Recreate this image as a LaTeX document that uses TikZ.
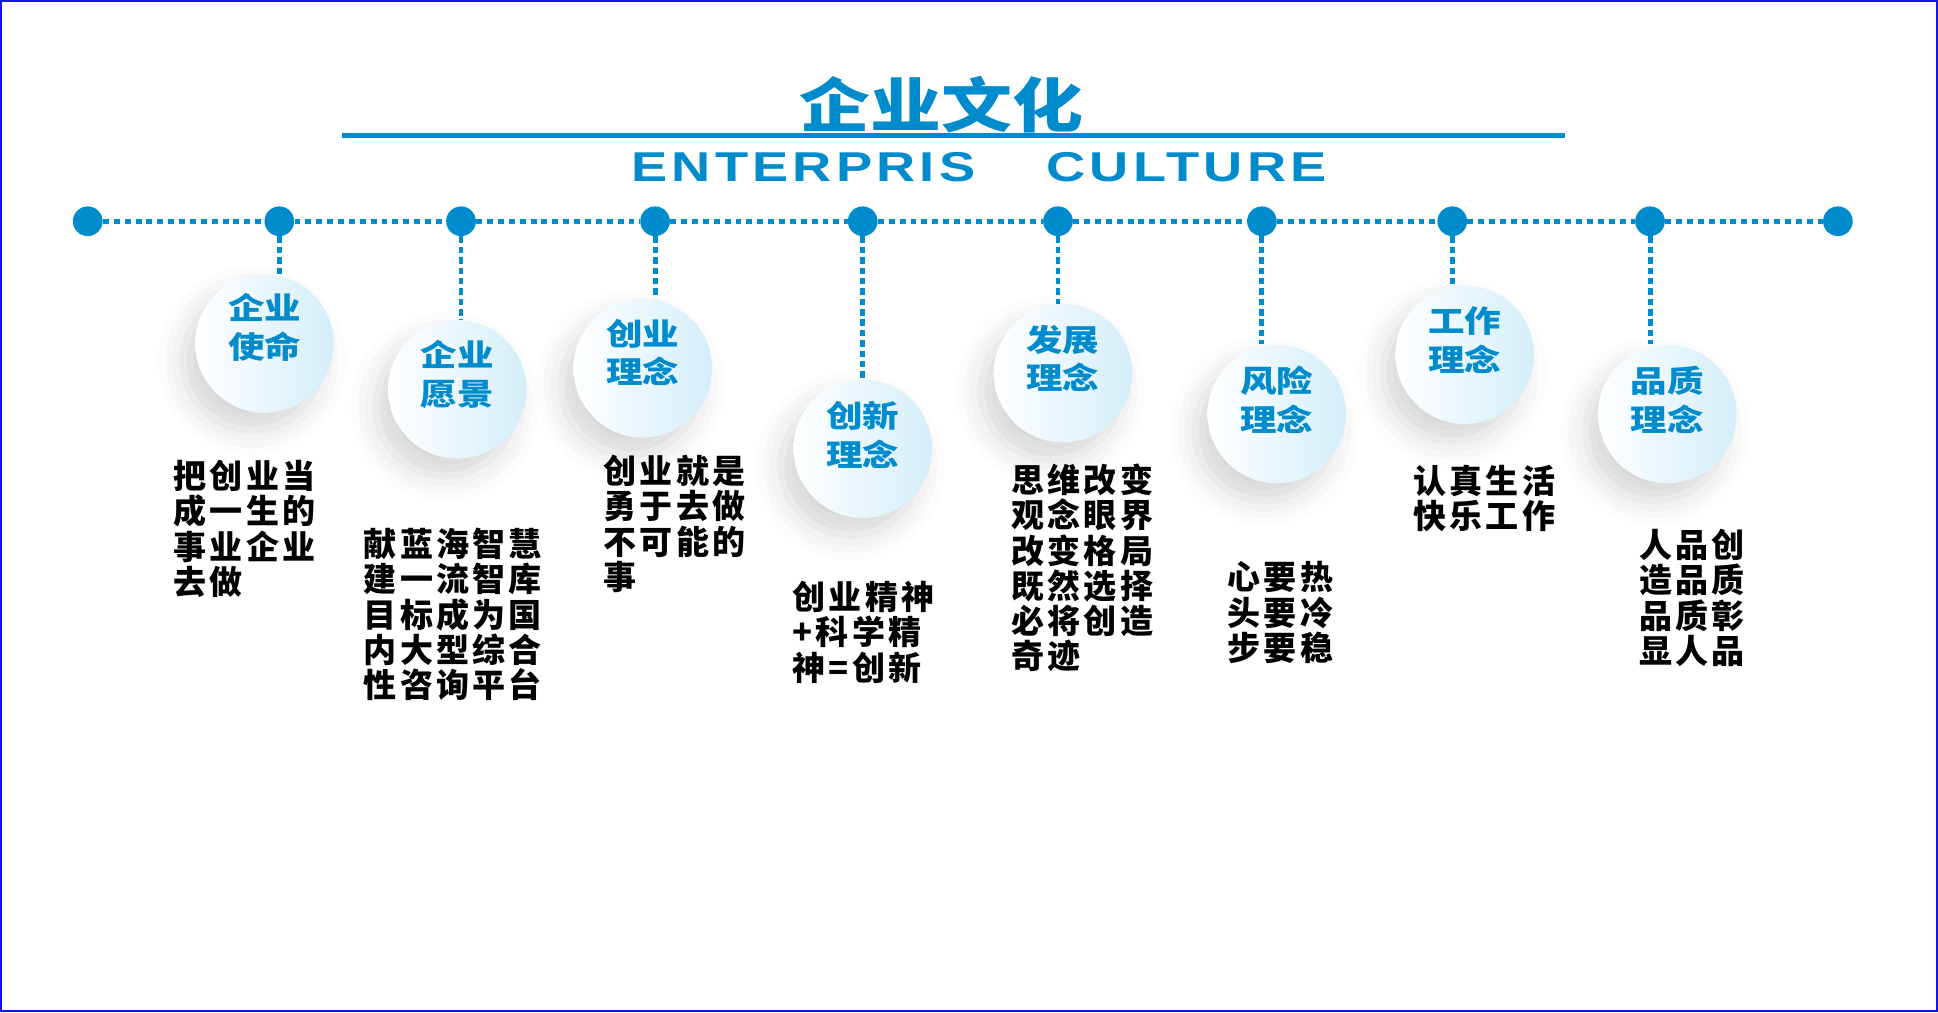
\documentclass[tikz,border=0pt]{standalone}
\usepackage{fontspec}
\usetikzlibrary{positioning, shadows.blur}
\definecolor{cultureblue}{RGB}{0,140,204}
\definecolor{ballblue}{RGB}{212,238,249}
\definecolor{frameblue}{RGB}{20,20,230}
\newfontfamily\bodyfont[LetterSpace=10]{Noto Sans CJK SC}
\newfontfamily\capfont[FakeStretch=1.2]{Noto Sans CJK SC}
\newfontfamily\engfont[LetterSpace=10, FakeStretch=1.3]{Liberation Sans}

\begin{document}
\begin{tikzpicture}[
    x=0.025cm, y=-0.025cm,
    dot/.style={circle, fill=cultureblue, minimum size=0.6cm, inner sep=0},
    tline/.style={cultureblue, line width=0.11cm, dash pattern=on 0.12cm off 0.1cm},
    vline/.style={cultureblue, line width=0.1cm, dash pattern=on 0.13cm off 0.08cm},
    ball/.style={circle, minimum size=2.8cm, inner sep=0, left color=white, right color=ballblue,
        blur shadow={shadow xshift=-0.25cm, shadow yshift=-0.35cm, shadow blur radius=0.5cm, shadow opacity=16}},
    caption/.style={align=center, text=cultureblue, inner sep=0, font=\capfont\bfseries\fontsize{17.5}{22.4}\selectfont},
    body/.style={anchor=north west, align=left, inner sep=0, font=\bodyfont\bfseries\fontsize{19}{20.3}\selectfont}
]
\useasboundingbox (0,0) rectangle (1568,819);
\draw[frameblue, line width=0.05cm] (1,1) rectangle (1567,818);

% Title
\node (title) at (762,85) [text=cultureblue, inner sep=0, font=\capfont\bfseries\fontsize{34}{34}\selectfont] {企业文化};
\draw[cultureblue, line width=0.1cm] (277,110) -- (1266,110);
\node (enta) at (650,135) [text=cultureblue, inner sep=0, font=\engfont\bfseries\fontsize{24}{25}\selectfont] {ENTERPRIS};
\node (entb) at (960,135) [text=cultureblue, inner sep=0, font=\engfont\bfseries\fontsize{24}{25}\selectfont] {CULTURE};

% Timeline
\node[dot] (d1) at (71,179) {};
\node[dot] (d2) at (226,179) {};
\node[dot] (d3) at (373,179) {};
\node[dot] (d4) at (530,179) {};
\node[dot] (d5) at (698,179) {};
\node[dot] (d6) at (856,179) {};
\node[dot] (d7) at (1021,179) {};
\node[dot] (d8) at (1175,179) {};
\node[dot] (d9) at (1335,179) {};
\node[dot] (d10) at (1487,179) {};

\draw[tline] (d1) -- (d2);
\draw[tline] (d2) -- (d3);
\draw[tline] (d3) -- (d4);
\draw[tline] (d4) -- (d5);
\draw[tline] (d5) -- (d6);
\draw[tline] (d6) -- (d7);
\draw[tline] (d7) -- (d8);
\draw[tline] (d8) -- (d9);
\draw[tline] (d9) -- (d10);

% Balls
\node[ball] (mission) at (214,278) {};
\node[ball] (vision) at (370,315) {};
\node[ball] (venture) at (520,298) {};
\node[ball] (innovation) at (698,363) {};
\node[ball] (growth) at (860,302) {};
\node[ball] (risk) at (1033,335) {};
\node[ball] (work) at (1185,287) {};
\node[ball] (quality) at (1349,335) {};

\node[caption] at ([yshift=0.33cm]mission.center) {企业\\使命};
\node[caption] at ([yshift=0.3cm]vision.center) {企业\\愿景};
\node[caption] at ([yshift=0.32cm]venture.center) {创业\\理念};
\node[caption] at ([yshift=0.28cm]innovation.center) {创新\\理念};
\node[caption] at ([yshift=0.3cm]growth.center) {发展\\理念};
\node[caption] at ([yshift=0.28cm]risk.center) {风险\\理念};
\node[caption] at ([yshift=0.3cm]work.center) {工作\\理念};
\node[caption] at ([yshift=0.28cm]quality.center) {品质\\理念};

\draw[vline] (d2) -- (d2 |- mission.north);
\draw[vline] (d3) -- (d3 |- vision.north);
\draw[vline] (d4) -- (d4 |- venture.north);
\draw[vline] (d5) -- (d5 |- innovation.north);
\draw[vline] (d6) -- (d6 |- growth.north);
\draw[vline] (d7) -- (d7 |- risk.north);
\draw[vline] (d8) -- (d8 |- work.north);
\draw[vline] (d9) -- (d9 |- quality.north);

% Texts
\node[body] (missiontext) at (140,372) {把创业当\\成一生的\\事业企业\\去做};
\node[body] (visiontext) at (294,427) {献蓝海智慧\\建一流智库\\目标成为国\\内大型综合\\性咨询平台};
\node[body] (venturetext) at (488,368) {创业就是\\勇于去做\\不可能的\\事};
\node[body] (innovationtext) at (641,470) {创业精神\\+科学精\\神=创新};
\node[body] (growthtext) at (818,375) {思维改变\\观念眼界\\改变格局\\既然选择\\必将创造\\奇迹};
\node[body] (risktext) at (993,454) {心要热\\头要冷\\步要稳};
\node[body] (worktext) at (1143,376) {认真生活\\快乐工作};
\node[body] (qualitytext) at (1326,428) {人品创\\造品质\\品质彰\\显人品};
\end{tikzpicture}
\end{document}
